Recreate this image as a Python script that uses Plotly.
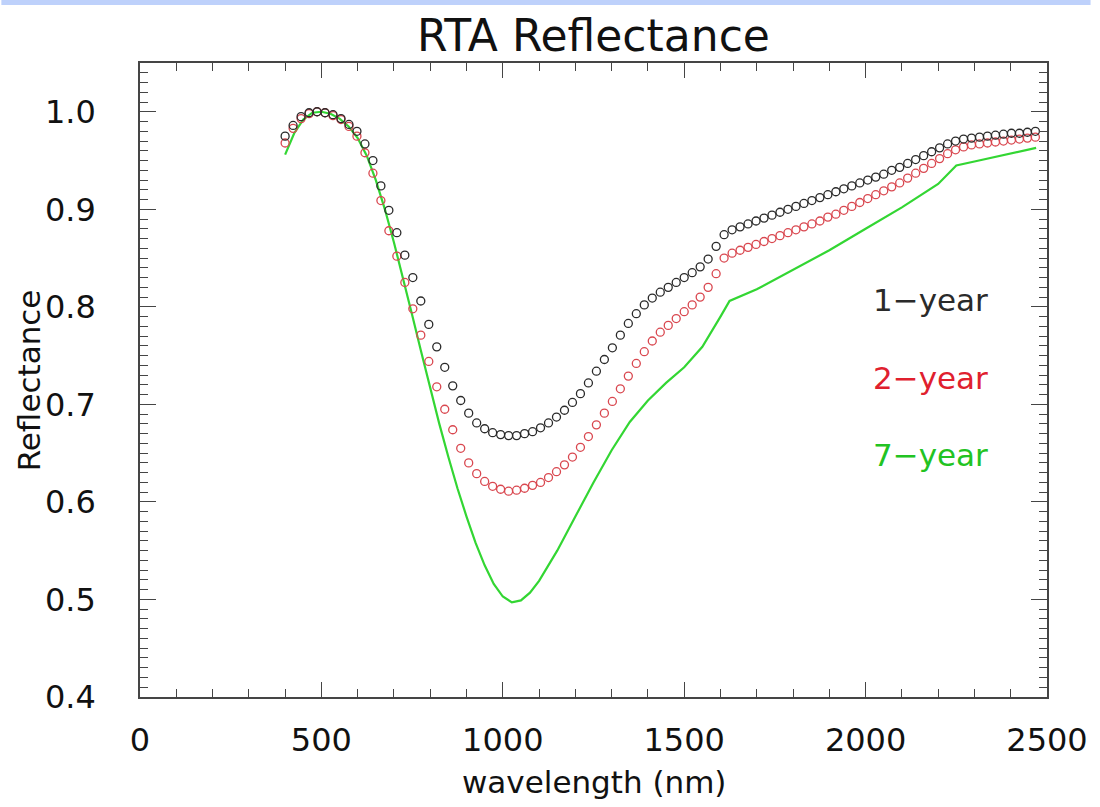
import plotly.graph_objects as go

# Sampling grid of the modelled spectra (nm)
wavelength_nm = [
    400, 422, 444, 466, 488, 510, 532, 554, 576, 598,
    620, 642, 664, 686, 708, 730, 752, 774, 796, 818,
    840, 862, 884, 906, 928, 950, 972, 994, 1016, 1038,
    1060, 1082, 1104, 1126, 1148, 1170, 1192, 1214, 1236, 1258,
    1280, 1302, 1324, 1346, 1368, 1390, 1412, 1434, 1456, 1478,
    1500, 1522, 1544, 1566, 1588, 1610, 1632, 1654, 1676, 1698,
    1720, 1742, 1764, 1786, 1808, 1830, 1852, 1874, 1896, 1918,
    1940, 1962, 1984, 2006, 2028, 2050, 2072, 2094, 2116, 2138,
    2160, 2182, 2204, 2226, 2248, 2270, 2292, 2314, 2336, 2358,
    2380, 2402, 2424, 2446, 2468,
]

refl_1yr = [
    0.975, 0.986, 0.995, 0.999, 1.000, 0.999, 0.997, 0.993, 0.987, 0.980,
    0.967, 0.950, 0.924, 0.899, 0.876, 0.853, 0.830, 0.806, 0.782, 0.759,
    0.738, 0.719, 0.704, 0.691, 0.681, 0.675, 0.671, 0.669, 0.668, 0.668,
    0.670, 0.672, 0.676, 0.681, 0.687, 0.694, 0.702, 0.711, 0.722, 0.734,
    0.746, 0.758, 0.771, 0.783, 0.793, 0.802, 0.809, 0.815, 0.820, 0.825,
    0.830, 0.835, 0.841, 0.849, 0.862, 0.874, 0.879, 0.882, 0.885, 0.888,
    0.891, 0.894, 0.897, 0.900, 0.903, 0.906, 0.909, 0.912, 0.915, 0.918,
    0.921, 0.924, 0.927, 0.930, 0.933, 0.936, 0.940, 0.943, 0.947, 0.951,
    0.955, 0.959, 0.963, 0.967, 0.970, 0.972, 0.973, 0.974, 0.975, 0.976,
    0.977, 0.978, 0.978, 0.979, 0.980,
]

refl_2yr = [
    0.968, 0.983, 0.993, 0.998, 1.000, 0.999, 0.996, 0.992, 0.985, 0.975,
    0.958, 0.937, 0.909, 0.878, 0.852, 0.825, 0.798, 0.771, 0.744, 0.718,
    0.695, 0.674, 0.655, 0.640, 0.629, 0.621, 0.616, 0.613, 0.611, 0.612,
    0.614, 0.617, 0.620, 0.625, 0.631, 0.638, 0.646, 0.656, 0.667, 0.679,
    0.691, 0.703, 0.716, 0.729, 0.742, 0.754, 0.765, 0.774, 0.781, 0.788,
    0.795, 0.802, 0.810, 0.820, 0.834, 0.850, 0.855, 0.858, 0.861, 0.864,
    0.867, 0.870, 0.873, 0.876, 0.879, 0.882, 0.885, 0.888, 0.892, 0.895,
    0.899, 0.903, 0.907, 0.911, 0.915, 0.919, 0.923, 0.927, 0.932, 0.937,
    0.942, 0.947, 0.952, 0.957, 0.961, 0.964, 0.966, 0.967, 0.968, 0.969,
    0.970, 0.971, 0.972, 0.973, 0.974,
]

# 7-year curve is drawn as a continuous line on its own grid
wavelength_7yr_nm = [
    400, 425, 450, 475, 500, 525, 550, 575, 600, 625,
    650, 675, 700, 725, 750, 775, 800, 825, 850, 875,
    900, 925, 950, 975, 1000, 1025, 1050, 1075, 1100, 1150,
    1200, 1250, 1300, 1350, 1400, 1450, 1500, 1550, 1600, 1625,
    1700, 1800, 1900, 2000, 2100, 2200, 2250, 2300, 2400, 2470,
]
refl_7yr = [
    0.956, 0.978, 0.992, 0.999, 1.000, 0.998, 0.993, 0.985, 0.973, 0.955,
    0.930, 0.900, 0.866, 0.830, 0.792, 0.754, 0.716, 0.680, 0.646, 0.614,
    0.585, 0.558, 0.535, 0.516, 0.503, 0.497, 0.499, 0.507, 0.519, 0.550,
    0.585, 0.620, 0.653, 0.682, 0.704, 0.722, 0.738, 0.759, 0.790, 0.806,
    0.818, 0.838, 0.858, 0.880, 0.902, 0.926, 0.945, 0.949, 0.957, 0.963,
]

series_labels = ["1\u2212year", "2\u2212year", "7\u2212year"]
label_y = [0.8075, 0.727, 0.648]
label_x = 2014

x_ticks = [0, 500, 1000, 1500, 2000, 2500]
y_ticks = [0.4, 0.5, 0.6, 0.7, 0.8, 0.9, 1.0]

BLACK = "#2a2a2a"
RED = "#d9474f"
RED_TEXT = "#e0202e"
GREEN = "#33d633"
GREEN_TEXT = "#22c322"
AXIS = "#454545"
FONT = "DejaVu Sans"

fig = go.Figure()

fig.add_trace(go.Scatter(
    x=wavelength_7yr_nm, y=refl_7yr, mode="lines",
    line=dict(color=GREEN, width=2.2), name=series_labels[2],
))
fig.add_trace(go.Scatter(
    x=wavelength_nm, y=refl_2yr, mode="markers",
    marker=dict(symbol="circle-open", size=8, color=RED, line=dict(width=1.3, color=RED)),
    name=series_labels[1],
))
fig.add_trace(go.Scatter(
    x=wavelength_nm, y=refl_1yr, mode="markers",
    marker=dict(symbol="circle-open", size=8, color=BLACK, line=dict(width=1.3, color=BLACK)),
    name=series_labels[0],
))

axis_common = dict(
    showline=True, linecolor=AXIS, linewidth=1.5, mirror="ticks",
    ticks="inside", tickcolor=AXIS, tickwidth=1.2,
    showgrid=False, zeroline=False,
    tickfont=dict(family=FONT, size=32, color="#111111"),
)

fig.update_xaxes(
    range=[0, 2500], tickvals=x_ticks, ticktext=[str(v) for v in x_ticks],
    ticklen=15, ticklabelstandoff=14,
    minor=dict(dtick=100, ticks="inside", ticklen=8, tickcolor=AXIS, tickwidth=1.1, showgrid=False),
    **axis_common,
)
fig.update_yaxes(
    range=[0.4, 1.05], tickvals=y_ticks, ticktext=[f"{v:.1f}" for v in y_ticks],
    ticklen=16, ticklabelstandoff=36,
    minor=dict(dtick=0.01, ticks="inside", ticklen=8, tickcolor=AXIS, tickwidth=1.1, showgrid=False),
    **axis_common,
)

annotations = [
    dict(text="RTA Reflectance", x=0.5, y=1.044, xref="paper", yref="paper",
         xanchor="center", yanchor="middle", showarrow=False,
         font=dict(family=FONT, size=44, color="#111111")),
    dict(text="Reflectance", x=-0.122, y=0.5, xref="paper", yref="paper",
         xanchor="center", yanchor="middle", showarrow=False, textangle=-90,
         font=dict(family=FONT, size=31, color="#111111")),
    dict(text="wavelength (nm)", x=0.5, y=-0.134, xref="paper", yref="paper",
         xanchor="center", yanchor="middle", showarrow=False,
         font=dict(family=FONT, size=31, color="#111111")),
]
for text, yv, col in zip(series_labels, label_y, [BLACK, RED_TEXT, GREEN_TEXT]):
    annotations.append(dict(
        text=text, x=label_x, y=yv, xref="x", yref="y",
        xanchor="left", yanchor="middle", showarrow=False,
        font=dict(family=FONT, size=31, color=col),
    ))

fig.update_layout(
    width=1100, height=807,
    margin=dict(l=140, r=44, t=63, b=110),
    paper_bgcolor="white", plot_bgcolor="white",
    showlegend=False,
    annotations=annotations,
    shapes=[dict(type="rect", xref="paper", yref="paper",
                 x0=-140 / 916, x1=960 / 916, y0=692 / 634, y1=697 / 634,
                 fillcolor="#bed1fb", line=dict(width=0), layer="above")],
)

fig.write_html("out.html")
